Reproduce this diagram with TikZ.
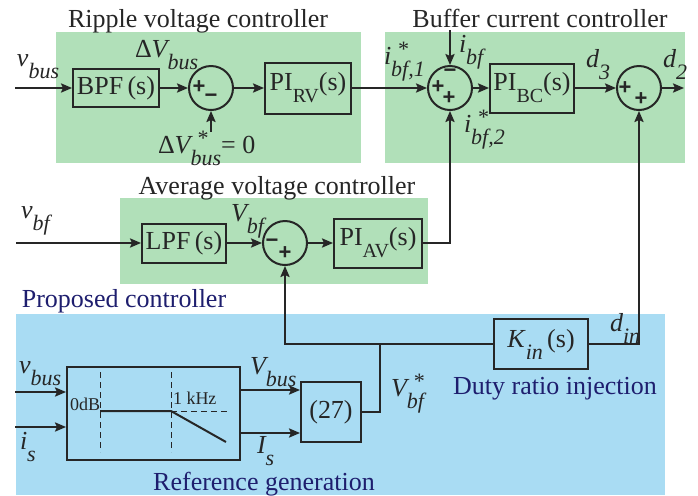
\documentclass[tikz,border=0pt]{standalone}
\usepackage{fontspec}
\setmainfont{Liberation Serif}
\newfontfamily\signfont{Liberation Sans}
\usetikzlibrary{arrows.meta}
\definecolor{grn}{RGB}{177,224,185}
\definecolor{blu}{RGB}{169,220,243}
\definecolor{navy}{RGB}{30,30,110}
\definecolor{ln}{RGB}{38,38,38}
\newcommand{\subsz}{\fontsize{11}{13}\selectfont}
\newcommand{\sbs}[2]{#1\raisebox{-6pt}{\subsz #2}}
\newcommand{\sbsp}[2]{#1\rlap{\hspace{3pt}\raisebox{4pt}{\subsz *}}\raisebox{-6pt}{\subsz #2}}
\newcommand{\rsub}[1]{\raisebox{-6pt}{\fontsize{10}{12}\selectfont #1}}
\begin{document}
\begin{tikzpicture}[x=0.5pt,y=-0.5pt,line width=1pt,color=ln,
  blk/.style={draw,rectangle,inner sep=0pt,font=\fontsize{13}{15}\selectfont},
  sumc/.style={draw,circle,minimum size=22pt,inner sep=0pt},
  arr/.style={-{Stealth[length=5.5pt,width=4.6pt,inset=1pt]}},
  lbl/.style={anchor=base west,inner sep=0pt,font=\fontsize{13}{15}\selectfont\itshape},
  ttl/.style={anchor=base,inner sep=0pt,font=\fontsize{13}{15}\selectfont},
  sgn/.style={inner sep=0pt,font=\fontsize{11}{11}\signfont\bfseries},
  thin dash/.style={line width=0.5pt,dash pattern=on 3pt off 2pt},
  small/.style={anchor=base west,inner sep=0pt,font=\fontsize{9}{11}\selectfont}]
\path[use as bounding box] (0,0) rectangle (698,495);
% backgrounds
\fill[grn] (56,32) rectangle (361,163);
\fill[grn] (385,32) rectangle (685,163);
\fill[grn] (120,198) rectangle (428,284);
\fill[blu] (16,314) rectangle (665,495);
% titles
\node[ttl] (T1) at (198,27) {Ripple voltage controller};
\node[ttl] (T2) at (540,27) {Buffer current controller};
\node[ttl] (T3) at (277,194) {Average voltage controller};
\node[ttl,text=navy] (T4) at (124,307) {Proposed controller};
\node[ttl,text=navy] (T5) at (264,490) {Reference generation};
\node[ttl,text=navy] (T6) at (555,394) {Duty ratio injection};
% blocks
\node[blk,minimum width=43pt,minimum height=19pt] (BPF) at (116,88) {BPF\,(s)};
\node[sumc] (S1) at (211,88) {};
\node[blk,minimum width=43pt,minimum height=25.5pt] (PIRV) at (308,88) {PI\rsub{RV}(s)};
\node[sumc] (S2) at (450,88) {};
\node[blk,minimum width=42pt,minimum height=24.5pt] (PIBC) at (532,88) {PI\rsub{BC}(s)};
\node[sumc] (S3) at (639,88) {};
\node[blk,minimum width=42pt,minimum height=19.5pt] (LPF) at (184,243) {LPF\,(s)};
\node[sumc] (S4) at (285,243) {};
\node[blk,minimum width=44pt,minimum height=24.5pt] (PIAV) at (378,243) {PI\rsub{AV}(s)};
\node[blk,minimum width=86.5pt,minimum height=46.5pt] (REF) at (153.5,413.5) {};
\node[blk,minimum width=30pt,minimum height=30pt] (EQ) at (331,412) {(27)};
\node[blk,minimum width=47pt,minimum height=25pt] (KIN) at (541,344) {\sbs{\textit{K}}{\textit{in}}\,(s)};
% signs
\node[sgn] (s1a) at (199,87) {+};
\node[sgn] (s1b) at (211,98) {−};
\node[sgn] (s2a) at (450,73) {−};
\node[sgn] (s2b) at (438,87) {+};
\node[sgn] (s2c) at (449,98) {+};
\node[sgn] (s3a) at (625,88) {+};
\node[sgn] (s3b) at (641,99) {+};
\node[sgn] (s4a) at (272,243) {−};
\node[sgn] (s4b) at (285,253) {+};
% free ends
\coordinate (vbusIn) at (15,88);
\coordinate (dref) at (211,132);
\coordinate (ibfIn) at (450,30);
\coordinate (d2out) at (684,88);
\coordinate (vbfIn) at (16,243);
\coordinate (vbusIn2) at (15,392);
\coordinate (isIn) at (15,427);
\coordinate (o1) at (240,390);
\coordinate (o2) at (240,433);
\coordinate (J) at (380,344);
% connectors
\draw[arr] (vbusIn) -- (BPF.west);
\draw[arr] (BPF.east) -- (S1.west);
\draw[arr] (dref) -- (S1.south);
\draw[arr] (S1.east) -- (PIRV.west);
\draw[arr] (PIRV.east) -- (S2.west);
\draw[arr] (ibfIn) -- (S2.north);
\draw[arr] (S2.east) -- (PIBC.west);
\draw[arr] (PIBC.east) -- (S3.west);
\draw[arr] (S3.east) -- (d2out);
\draw[arr] (vbfIn) -- (LPF.west);
\draw[arr] (LPF.east) -- (S4.west);
\draw[arr] (S4.east) -- (PIAV.west);
\draw[arr] (PIAV.east) -| (S2.south);
\draw[arr] (vbusIn2) -- (vbusIn2 -| REF.west);
\draw[arr] (isIn) -- (isIn -| REF.west);
\draw[arr] (o1) -- (o1 -| EQ.west);
\draw[arr] (o2) -- (o2 -| EQ.west);
\draw (EQ.east) -| (J);
\draw (J) -- (KIN.west);
\draw[arr] (J) -| (S4.south);
\draw[arr] (KIN.east) -| (S3.south);
% filter sketch inside reference generation
\draw[thin dash] (100,372) -- (100,452);
\draw[thin dash] (171,372) -- (171,452);
\draw[thin dash] (171,411) -- (227,411);
\draw (100,411) -- (171,411) -- (226,442);
\node[small] (L0dB) at (69,410) {0dB};
\node[small] (L1k) at (172,404) {1 kHz};
% signal labels
\node[lbl] (Lvbus) at (16,66) {\sbs{v}{bus}};
\node[lbl] (LdV) at (134,57) {\upshape Δ\itshape\sbs{V}{bus}};
\node[lbl] (LdVr) at (157,153) {\upshape Δ\itshape\sbsp{V}{bus}\upshape= 0};
\node[lbl] (Li1) at (383,64) {\sbsp{i}{bf,1}};
\node[lbl] (Libf) at (458,52) {\sbs{i}{bf}};
\node[lbl] (Li2) at (463,132) {\sbsp{i}{bf,2}};
\node[lbl] (Ld3) at (585,67) {\sbs{d}{3}};
\node[lbl] (Ld2) at (662,67) {\sbs{d}{2}};
\node[lbl] (Lvbf) at (20,218) {\sbs{v}{bf}};
\node[lbl] (LVbf) at (230,221) {\sbs{V}{bf}};
\node[lbl] (Lvbus2) at (18,373) {\sbs{v}{bus}};
\node[lbl] (Lis) at (19,449) {\sbs{i}{s}};
\node[lbl] (LVbus) at (249,374) {\sbs{V}{bus}};
\node[lbl] (LIs) at (256,453) {\sbs{I}{s}};
\node[lbl] (LVref) at (390,396) {\sbsp{V}{bf}};
\node[lbl] (Ldin) at (609,331) {\sbs{d}{in}};
\end{tikzpicture}
\end{document}
